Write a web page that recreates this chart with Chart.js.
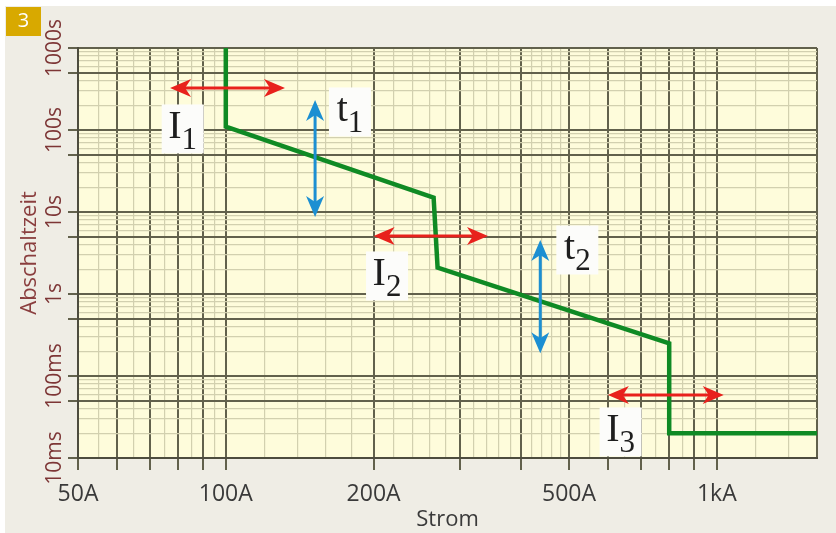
<!DOCTYPE html>
<html>
<head>
<meta charset="utf-8">
<script src="https://cdn.jsdelivr.net/npm/chart.js@4/dist/chart.umd.min.js"></script>
<style>
html,body{margin:0;padding:0;background:#ffffff;}
#wrap{width:836px;height:533px;position:relative;}
</style>
</head>
<body>
<div id="wrap"><canvas id="c" width="836" height="533"></canvas></div>
<script>
// ---- data ----
const currentA = [100, 100, 265, 270, 800, 800, 1600];
const tripTimeS = [1000, 110, 15, 2.1, 0.25, 0.02, 0.02];

// x axis grid / ticks
const xMajorTicks = [50, 60, 70, 80, 90, 100, 200, 300, 400, 500, 600, 700, 800, 900, 1000, 1600];
const xMinorTicks = [55, 65, 75, 85, 95, 120, 140, 160, 180, 220, 240, 260, 280, 320, 340, 360, 380,
                     420, 440, 460, 480, 550, 650, 750, 850, 950, 1200, 1400];
const xLabelValues = [50, 100, 200, 500, 1000];
const xLabelTexts = ['50A', '100A', '200A', '500A', '1kA'];

// y axis grid / ticks
const yMajorTicks = [0.01, 0.05, 0.1, 0.5, 1, 5, 10, 50, 100, 500, 1000];
const yMinorTicks = [0.02, 0.03, 0.04, 0.06, 0.07, 0.08, 0.09,
                     0.2, 0.3, 0.4, 0.6, 0.7, 0.8, 0.9,
                     2, 3, 4, 6, 7, 8, 9,
                     20, 30, 40, 60, 70, 80, 90,
                     200, 300, 400, 600, 700, 800, 900];
const yLabelValues = [0.01, 0.1, 1, 10, 100, 1000];
const yLabelTexts = ['10ms', '100ms', '1s', '10s', '100s', '1000s'];

// annotation arrows (data coordinates)
const currentArrowTime = [325, 5.1, 0.0586];
const currentArrowFrom = [77, 200, 600];
const currentArrowTo = [132, 342, 1033];
const timeArrowCurrent = [152, 437];
const timeArrowFrom = [232, 4.56];
const timeArrowTo = [8.7, 0.19];

// annotation labels (data coordinates of box centres)
const labelMain = ['I', 't', 'I', 't', 'I'];
const labelSub = ['1', '1', '2', '2', '3'];
const labelCurrent = [81.7, 179, 213, 520, 637];
const labelTime = [103, 166, 1.66, 3.44, 0.0208];

// ---- styling ----
const DARK = '#62614c';
const LIGHT = '#d2d0af';
const TRANSPARENT = 'rgba(0,0,0,0)';
const near = (a, b) => Math.abs(a - b) <= Math.abs(b) * 1e-6;
const isIn = (arr, v) => arr.some(a => near(v, a));
const labelFrom = (vals, texts, v) => { const i = vals.findIndex(a => near(v, a)); return i >= 0 ? texts[i] : ''; };

const bgPlugin = {
  id: 'bg',
  beforeDraw(chart) {
    const ctx = chart.ctx, a = chart.chartArea;
    ctx.save();
    ctx.fillStyle = '#ffffff';
    ctx.fillRect(0, 0, chart.width, chart.height);
    ctx.fillStyle = '#efede5';
    ctx.fillRect(5, 6, chart.width - 5, chart.height - 6);
    ctx.fillStyle = '#fefcdb';
    ctx.fillRect(a.left, a.top, a.right - a.left, a.bottom - a.top);
    // badge
    ctx.fillStyle = '#d8a900';
    ctx.fillRect(6, 7, 35, 29);
    ctx.fillStyle = '#ffffff';
    ctx.font = '20px "Open Sans"';
    ctx.textAlign = 'center';
    ctx.textBaseline = 'middle';
    ctx.fillText('3', 23.5, 21.5);
    ctx.restore();
  }
};

function drawHead(ctx, tx, ty, dx, dy) {
  const len = 21, half = 9, notch = 15;
  const px = -dy, py = dx;
  ctx.beginPath();
  ctx.moveTo(tx, ty);
  ctx.lineTo(tx - dx * len + px * half, ty - dy * len + py * half);
  ctx.lineTo(tx - dx * notch, ty - dy * notch);
  ctx.lineTo(tx - dx * len - px * half, ty - dy * len - py * half);
  ctx.closePath();
  ctx.fill();
}
function drawDoubleArrow(ctx, x1, y1, x2, y2, color) {
  const L = Math.hypot(x2 - x1, y2 - y1);
  const dx = (x2 - x1) / L, dy = (y2 - y1) / L;
  ctx.strokeStyle = color;
  ctx.fillStyle = color;
  ctx.lineWidth = 3;
  ctx.beginPath();
  ctx.moveTo(x1 + dx * 12, y1 + dy * 12);
  ctx.lineTo(x2 - dx * 12, y2 - dy * 12);
  ctx.stroke();
  drawHead(ctx, x2, y2, dx, dy);
  drawHead(ctx, x1, y1, -dx, -dy);
}

const annotPlugin = {
  id: 'annot',
  afterDatasetsDraw(chart) {
    const ctx = chart.ctx, xs = chart.scales.x, ys = chart.scales.y;
    ctx.save();
    for (let i = 0; i < currentArrowTime.length; i++) {
      const y = ys.getPixelForValue(currentArrowTime[i]);
      drawDoubleArrow(ctx, xs.getPixelForValue(currentArrowFrom[i]), y, xs.getPixelForValue(currentArrowTo[i]), y, '#e8211c');
    }
    for (let i = 0; i < timeArrowCurrent.length; i++) {
      const x = xs.getPixelForValue(timeArrowCurrent[i]);
      drawDoubleArrow(ctx, x, ys.getPixelForValue(timeArrowFrom[i]), x, ys.getPixelForValue(timeArrowTo[i]), '#1c8fd2');
    }
    for (let i = 0; i < labelMain.length; i++) {
      const cx = xs.getPixelForValue(labelCurrent[i]);
      const cy = ys.getPixelForValue(labelTime[i]);
      ctx.fillStyle = '#fcfcfa';
      ctx.fillRect(cx - 21, cy - 24.5, 42, 49);
      ctx.fillStyle = '#1e1e1e';
      ctx.textBaseline = 'alphabetic';
      ctx.textAlign = 'left';
      ctx.font = '40px "Liberation Serif"';
      const wm = ctx.measureText(labelMain[i]).width;
      ctx.font = '31px "Liberation Serif"';
      const ws = ctx.measureText(labelSub[i]).width;
      const x0 = cx - (wm + ws) / 2;
      ctx.font = '40px "Liberation Serif"';
      ctx.fillText(labelMain[i], x0, cy + 9);
      ctx.font = '31px "Liberation Serif"';
      ctx.fillText(labelSub[i], x0 + wm, cy + 20);
    }
    ctx.restore();
  }
};

const points = currentA.map((c, i) => ({ x: c, y: tripTimeS[i] }));

new Chart(document.getElementById('c'), {
  type: 'scatter',
  data: {
    datasets: [{
      data: points,
      showLine: true,
      borderColor: '#0f8a24',
      backgroundColor: '#0f8a24',
      borderWidth: 4.5,
      pointRadius: 0,
      tension: 0,
      borderJoinStyle: 'miter'
    }]
  },
  options: {
    responsive: false,
    animation: false,
    layout: { padding: { left: 0, top: 48, right: 19, bottom: 0 } },
    plugins: { legend: { display: false }, tooltip: { enabled: false } },
    scales: {
      x: {
        type: 'logarithmic',
        min: 50,
        max: 1600,
        afterBuildTicks: s => { s.ticks = [...xMajorTicks, ...xMinorTicks].sort((a, b) => a - b).map(v => ({ value: v })); },
        afterFit: s => { s.height = 75; },
        ticks: {
          autoSkip: false,
          minRotation: 0,
          maxRotation: 0,
          padding: 11,
          color: '#3a3a3a',
          font: { family: 'Open Sans', size: 23 },
          callback: v => labelFrom(xLabelValues, xLabelTexts, v)
        },
        grid: {
          color: c => (c.tick && isIn(xMajorTicks, c.tick.value)) ? DARK : LIGHT,
          lineWidth: c => (c.tick && isIn(xMajorTicks, c.tick.value)) ? 2 : 1.2,
          tickLength: 12,
          tickColor: c => (c.tick && isIn(xMajorTicks, c.tick.value) && c.tick.value < 1600) ? DARK : TRANSPARENT,
          tickWidth: 2
        },
        border: { color: '#4d4c3e', width: 2 },
        title: { display: true, text: 'Strom', color: '#3a3a3a', font: { family: 'Open Sans', size: 22 }, padding: { top: 0, bottom: 0 } }
      },
      y: {
        type: 'logarithmic',
        min: 0.01,
        max: 1000,
        afterBuildTicks: s => { s.ticks = [...yMajorTicks, ...yMinorTicks].sort((a, b) => a - b).map(v => ({ value: v })); },
        afterFit: s => { s.width = 78; },
        ticks: {
          autoSkip: false,
          minRotation: 90,
          maxRotation: 90,
          crossAlign: 'center',
          padding: -20,
          color: '#7d3636',
          font: { family: 'Open Sans', size: 21 },
          callback: v => labelFrom(yLabelValues, yLabelTexts, v)
        },
        grid: {
          color: c => (c.tick && isIn(yMajorTicks, c.tick.value)) ? DARK : LIGHT,
          lineWidth: c => (c.tick && isIn(yMajorTicks, c.tick.value)) ? 2 : 1.2,
          tickLength: 10,
          tickColor: c => (c.tick && isIn(yMajorTicks, c.tick.value)) ? DARK : TRANSPARENT,
          tickWidth: 2
        },
        border: { color: '#4d4c3e', width: 2 },
        title: { display: true, text: 'Abschaltzeit', color: '#8a3e3e', font: { family: 'Open Sans', size: 22 }, padding: { top: 17, bottom: 0 } }
      }
    }
  },
  plugins: [bgPlugin, annotPlugin]
});
</script>
</body>
</html>
